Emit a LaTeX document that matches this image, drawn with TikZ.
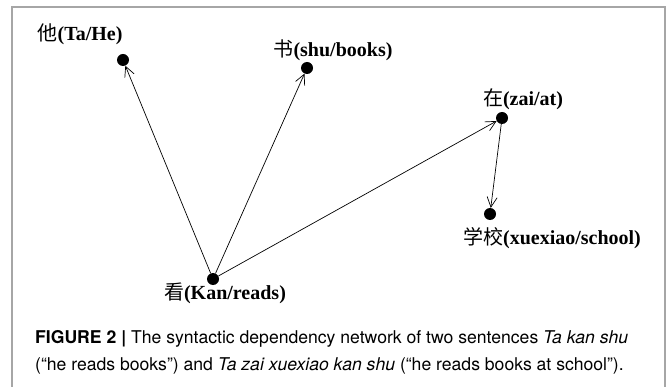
\documentclass[tikz,border=0pt]{standalone}
\usepackage{fontspec}
\setmainfont{Liberation Serif}
\setsansfont{TeX Gyre Heros}
\newfontfamily\cjk{Noto Sans CJK SC}
\usetikzlibrary{arrows.meta,positioning}

\newcommand{\zh}[1]{{\cjk\mdseries #1}}

\begin{document}
\begin{tikzpicture}[
x=1pt,y=-1pt,
dot/.style={
  circle,
  fill=black,
  inner sep=0pt,
  minimum size=12pt
},
word/.style={
  font=\fontsize{20}{24}\selectfont\bfseries,
  inner sep=0pt
},
dep/.style={
  -{Straight Barb[length=10pt,width=10pt]},
  line width=0.7pt
},
frame/.style={
  draw=gray!70,
  line width=1.4pt
}
]
\useasboundingbox (0,0) rectangle (668,387);

% frame round the figure
\draw[frame] (12,387) -- (12,7) -- (665,7) -- (665,387);

% words
\node[dot] (kan) at (213,279) {};
\node[dot] (ta) at (123,60) {};
\node[dot] (shu) at (307,68) {};
\node[dot] (zai) at (502,118) {};
\node[dot] (xx) at (490,214) {};

\node[word] (kanL) at (225,293) {\zh{看}(Kan/reads)};
\node[word] (taL) at (80,34) {\zh{他}(Ta/He)};
\node[word] (shuL) at (333,50) {\zh{书}(shu/books)};
\node[word] (zaiL) at (523,99) {\zh{在}(zai/at)};
\node[word] (xxL) at (552,238) {\zh{学校}(xuexiao/school)};

% dependencies
\draw[dep] (kan) -- (ta);
\draw[dep] (kan) -- (shu);
\draw[dep] (kan) -- (zai);
\draw[dep] (zai) -- (xx);

% caption
\node[anchor=north west,align=left,inner sep=0pt,
  font=\sffamily\fontsize{17.6}{27}\selectfont] (cap) at (35,330)
  {\textbf{FIGURE 2 |} The syntactic dependency network of two sentences \textit{Ta kan shu}\\
   (``he reads books'') and \textit{Ta zai xuexiao kan shu} (``he reads books at school'').};
\end{tikzpicture}
\end{document}
